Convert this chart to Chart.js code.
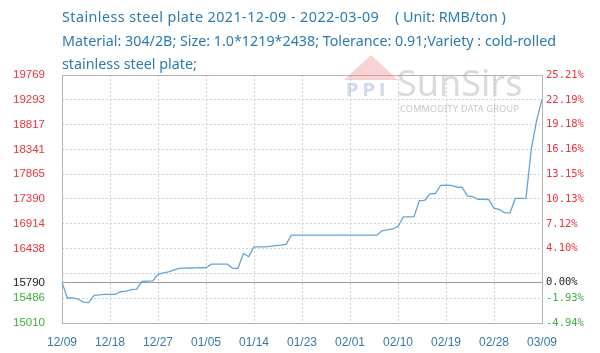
<!DOCTYPE html>
<html><head><meta charset="utf-8">
<script src="https://cdn.jsdelivr.net/npm/chart.js@4"></script>
<style>
html,body{margin:0;padding:0;background:#fff;}
#wrap{position:relative;width:600px;height:353px;overflow:hidden;background:#fff;}
#c{position:absolute;left:0;top:0;}
#title{position:absolute;left:62px;top:5px;font:14.3px "Noto Sans",sans-serif;color:#2b7ab0;line-height:23.5px;white-space:nowrap;}
#t1a{letter-spacing:0.45px;}
#t1b{position:absolute;left:333px;top:0;}
.wm{position:absolute;pointer-events:none;}
#tri{left:344px;top:55px;width:0;height:0;border-left:27px solid transparent;border-right:27px solid transparent;border-bottom:25px solid rgba(232,130,130,0.35);}
#ppi{left:346px;top:80px;font:bold 17px "DejaVu Sans",sans-serif;color:rgba(120,150,190,0.35);letter-spacing:4px;}
#sun{left:397px;top:58px;font:36px "Noto Sans",sans-serif;color:rgba(170,170,170,0.42);}
#cdg{left:400px;top:102px;font:9px "Noto Sans",sans-serif;color:rgba(160,160,160,0.6);letter-spacing:0.3px;}
</style></head>
<body><div id="wrap">
<canvas id="c" width="600" height="353"></canvas>
<div id="title"><span id="t1a">Stainless steel plate 2021-12-09 - 2022-03-09</span><span id="t1b">( Unit: RMB/ton )</span><br>Material: 304/2B; Size: 1.0*1219*2438; Tolerance: 0.91;Variety : cold-rolled<br>stainless steel plate;</div>
<div class="wm" id="tri"></div>
<div class="wm" id="ppi">PPI</div>
<div class="wm" id="sun">SunSirs</div>
<div class="wm" id="cdg">COMMODITY DATA GROUP</div>
</div>
<script>
const dates = [
'12/09','12/10','12/11','12/12','12/13','12/14','12/15','12/16','12/17','12/18','12/19','12/20','12/21','12/22','12/23','12/24','12/25','12/26','12/27','12/28','12/29','12/30','12/31',
'01/01','01/02','01/03','01/04','01/05','01/06','01/07','01/08','01/09','01/10','01/11','01/12','01/13','01/14','01/15','01/16','01/17','01/18','01/19','01/20','01/21','01/22','01/23','01/24','01/25','01/26','01/27','01/28','01/29','01/30','01/31',
'02/01','02/02','02/03','02/04','02/05','02/06','02/07','02/08','02/09','02/10','02/11','02/12','02/13','02/14','02/15','02/16','02/17','02/18','02/19','02/20','02/21','02/22','02/23','02/24','02/25','02/26','02/27','02/28',
'03/01','03/02','03/03','03/04','03/05','03/06','03/07','03/08','03/09'];
const prices = [
15790,15490,15490,15470,15410,15400,15540,15548,15560,15560,
15560,15610,15622,15650,15660,15810,15815,15820,15945,15970,
15990,16030,16060,16062,16065,16068,16070,16070,16138,16138,
16138,16138,16060,16060,16345,16285,16470,16470,16470,16482,
16495,16505,16520,16695,16695,16695,16695,16695,16695,16695,
16695,16695,16695,16695,16695,16695,16695,16695,16695,16695,
16780,16795,16815,16860,17045,17045,17050,17360,17365,17490,
17495,17650,17655,17650,17620,17615,17450,17435,17385,17385,
17380,17210,17190,17125,17125,17400,17400,17405,18350,18900,
19300];
const xTickLabels = ['12/09','12/18','12/27','01/05','01/14','01/23','02/01','02/10','02/19','02/28','03/09'];
const yTicks       = [15010,15486,15790,15962,16438,16914,17390,17865,18341,18817,19293,19769];
const yTickLabels  = ['15010','15486','15790','','16438','16914','17390','17865','18341','18817','19293','19769'];
const pctTickLabels = ['-4.94%','-1.93%','0.00%','','4.10%','7.12%','10.13%','13.15%','16.16%','19.18%','22.19%','25.21%'];
const basePrice = 15790;
const yMin = 15010, yMax = 19769;

const RED = '#e8343c', GREEN = '#3fae3f', BLACK = '#222';
function tickColor(v){ return v > basePrice ? RED : (v < basePrice ? GREEN : BLACK); }

const boxPlugin = {
  id: 'box',
  beforeDatasetsDraw(chart){
    const {ctx, chartArea:a, scales} = chart;
    ctx.save();
    ctx.strokeStyle = '#9a9a9a';
    ctx.lineWidth = 1;
    const y = Math.round(scales.y.getPixelForValue(basePrice)) + 0.5;
    ctx.beginPath(); ctx.moveTo(a.left, y); ctx.lineTo(a.right, y); ctx.stroke();
    ctx.strokeStyle = '#b4b4b4';
    ctx.strokeRect(Math.round(a.left)+0.5, Math.round(a.top)+0.5, Math.round(a.right-a.left), Math.round(a.bottom-a.top));
    ctx.restore();
  }
};

new Chart(document.getElementById('c'), {
  type: 'line',
  data: { labels: dates, datasets: [{ data: prices, borderColor: '#68a4d6', borderWidth: 1.3, pointRadius: 0, tension: 0, fill: false }] },
  options: {
    responsive: false, animation: false, events: [],
    layout: { padding: { top: 75, left: 0, right: 0, bottom: 0 } },
    plugins: { legend: { display: false }, tooltip: { enabled: false }, title: { display: false } },
    scales: {
      x: {
        type: 'category',
        afterFit(s){ s.height = 30; },
        border: { display: false, dash: [2,2] },
        grid: { drawTicks: false, lineWidth: 1,
          color: c => (c.tick && xTickLabels.includes(dates[c.tick.value]) && c.index !== 0 && c.index !== dates.length-1) ? '#d0d0d0' : 'rgba(0,0,0,0)' },
        ticks: { autoSkip: false, maxRotation: 0, minRotation: 0, padding: 12,
          color: '#3b78a8', font: { family: 'Liberation Sans', size: 12 },
          callback(v, i){ const l = dates[i]; return xTickLabels.includes(l) ? l : ''; } }
      },
      y: {
        type: 'linear', position: 'left', min: yMin, max: yMax,
        afterFit(s){ s.width = 62; },
        afterBuildTicks(s){ s.ticks = yTicks.map(v => ({ value: v })); },
        border: { display: false, dash: [2,2] },
        grid: { drawTicks: false, lineWidth: 1,
          color: c => (c.tick && (c.tick.value === basePrice || c.tick.value === yMin || c.tick.value === yMax)) ? 'rgba(0,0,0,0)' : '#d0d0d0' },
        ticks: { padding: 17, font: { family: 'Liberation Sans', size: 11.5 },
          color: c => tickColor(c.tick.value),
          callback(v, i){ return yTickLabels[i]; } }
      },
      y2: {
        type: 'linear', position: 'right', min: yMin, max: yMax,
        afterFit(s){ s.width = 58; },
        afterBuildTicks(s){ s.ticks = yTicks.map(v => ({ value: v })); },
        border: { display: false },
        grid: { display: false, drawTicks: false },
        ticks: { padding: 4, font: { family: 'DejaVu Sans Mono', size: 10.5 },
          color: c => tickColor(c.tick.value),
          callback(v, i){ return pctTickLabels[i]; } }
      }
    }
  },
  plugins: [boxPlugin]
});
</script>
</body></html>
